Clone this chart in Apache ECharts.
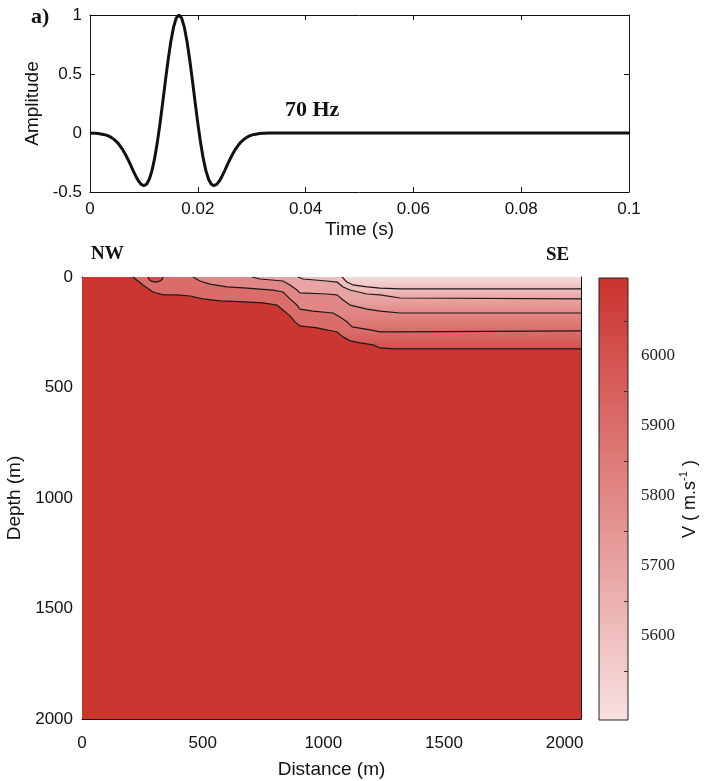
<!DOCTYPE html>
<html><head><meta charset="utf-8">
<script src="https://cdn.jsdelivr.net/npm/echarts@6/dist/echarts.min.js"></script>
<style>html,body{margin:0;padding:0;background:#fff}#c{width:705px;height:781px}</style>
</head><body><div id="c"></div>
<script>
// ---- panel a) wavelet (read from picture) ----
const timeS = [0, 0.0005, 0.001, 0.0015, 0.002, 0.0025, 0.003, 0.0035, 0.004, 0.0045,
  0.005, 0.0055, 0.006, 0.0065, 0.007, 0.0075, 0.008, 0.0085, 0.009, 0.0095,
  0.01, 0.0105, 0.011, 0.0115, 0.012, 0.0125, 0.013, 0.0135, 0.014, 0.0145,
  0.015, 0.0155, 0.016, 0.0165, 0.017, 0.0175, 0.018, 0.0185, 0.019, 0.0195,
  0.02, 0.0205, 0.021, 0.0215, 0.022, 0.0225, 0.023, 0.0235, 0.024, 0.0245,
  0.025, 0.0255, 0.026, 0.0265, 0.027, 0.0275, 0.028, 0.0285, 0.029, 0.0295,
  0.03, 0.0305, 0.031, 0.0315, 0.032, 0.0325, 0.033, 0.035, 0.1];
const amplitude = [-0.001, -0.002, -0.003, -0.005, -0.008, -0.012, -0.018, -0.027, -0.039, -0.056,
  -0.077, -0.104, -0.136, -0.175, -0.220, -0.268, -0.318, -0.366, -0.407, -0.435,
  -0.446, -0.434, -0.392, -0.319, -0.213, -0.077, 0.084, 0.262, 0.446, 0.621,
  0.776, 0.897, 0.974, 1.000, 0.974, 0.897, 0.776, 0.621, 0.446, 0.262,
  0.084, -0.077, -0.213, -0.319, -0.392, -0.434, -0.446, -0.435, -0.407, -0.366,
  -0.318, -0.268, -0.220, -0.175, -0.136, -0.104, -0.077, -0.056, -0.039, -0.027,
  -0.018, -0.012, -0.008, -0.005, -0.003, -0.002, -0.001, 0, 0];

// ---- panel b) velocity model: contours [distance m, depth m] ----
const contour5600 = [[1078,0],[1098,23],[1123,36],[1181,45],[1235,50],[1318,54],[2068,54]];
const contour5700 = [[895,0],[916,9],[1015,18],[1057,23],[1082,45],[1111,59],[1181,77],[1235,81],[1318,95],[2068,99]];
const contour5800 = [[705,0],[738,9],[833,18],[862,36],[891,59],[903,72],[1015,77],[1057,81],[1082,104],[1111,127],[1181,145],[1235,154],[1318,163],[2068,163]];
const contour5900 = [[460,0],[489,18],[530,32],[601,45],[684,50],[792,59],[833,68],[862,99],[891,127],[903,145],[957,154],[1040,163],[1069,181],[1098,203],[1119,226],[1194,239],[1235,248],[1297,248],[2068,244]];
const contour6000 = [[211,0],[253,36],[294,68],[336,81],[394,81],[448,86],[501,99],[572,108],[676,113],[750,117],[808,127],[833,149],[862,176],[883,203],[903,221],[974,230],[1057,249],[1082,271],[1111,289],[1152,298],[1206,307],[1235,321],[1297,325],[2068,325]];
const loop6000 = [[273,0],[278,11],[290,20],[305,23],[320,20],[332,11],[336,0]];
const contourLevels = [6000, 5900, 5800, 5700, 5600];
const deepVelocity = 6100;
const loopVelocity = 6020;
const modelExtent = [2068, 2000];
const cbRange = [5480, 6111];
const cbLabels = [5600, 5700, 5800, 5900, 6000];
const cbTicks = [5550, 5650, 5750, 5850, 5950, 6050];

const LO = [247, 224, 224], HI = [203, 51, 46];
function vColor(v) {
  const t = Math.max(0, Math.min(1, (v - cbRange[0]) / (cbRange[1] - cbRange[0])));
  const c = LO.map((l, i) => Math.round(l + (HI[i] - l) * t));
  return 'rgb(' + c.join(',') + ')';
}
const W = modelExtent[0], H = modelExtent[1];
const contours = [contour6000, contour5900, contour5800, contour5700, contour5600];
// polygon list: background, then region above each contour, then the small closed loop
const polys = [[[0,0],[W,0],[W,H],[0,H]]]
  .concat(contours.map(c => c.concat([[W,0]])))
  .concat([loop6000]);

const AX = '#111';
const plain = (v) => String(v);
const sansLab = {fontFamily: 'Liberation Sans', fontSize: 17, color: AX};
const sansName = {fontFamily: 'Liberation Sans', fontSize: 19, color: AX};
function frameAxis(extra) {
  return Object.assign({
    type: 'value',
    axisLine: {show: true, onZero: false, lineStyle: {color: AX, width: 1}},
    axisTick: {show: true, inside: true, length: 5, lineStyle: {color: AX}},
    splitLine: {show: false}
  }, extra);
}
const contourLine = (d) => ({
  type: 'line', xAxisIndex: 2, yAxisIndex: 2, data: d, showSymbol: false, symbol: 'none',
  lineStyle: {color: '#1a1a1a', width: 1.2}, z: 5, silent: true
});

function bandFill(i, api) {
  if (i === 0) return vColor(deepVelocity);
  if (i === polys.length - 1) return vColor(loopVelocity);
  const k = i - 1;
  const c = contours[k];
  const dBot = c[c.length - 1][1];
  const upper = contours[k + 1];
  const dTop = upper ? upper[upper.length - 1][1] : 0;
  const yTop = api.coord([W, dTop])[1], yBot = api.coord([W, dBot])[1];
  return new echarts.graphic.LinearGradient(0, yTop, 0, yBot, [
    {offset: 0, color: vColor(contourLevels[k] - 100)},
    {offset: 1, color: vColor(contourLevels[k])}], true);
}

const chart = echarts.init(document.getElementById('c'), null, {renderer: 'canvas'});
chart.setOption({
  animation: false,
  backgroundColor: '#fff',
  textStyle: {fontFamily: 'Liberation Sans'},
  grid: [
    {left: 90, top: 15, width: 539, height: 177, outerBoundsMode: 'none'},
    {left: 82, top: 277, width: 499, height: 442, outerBoundsMode: 'none'},
    {left: 599, top: 278, width: 29, height: 442, outerBoundsMode: 'none'}
  ],
  xAxis: [
    frameAxis({gridIndex: 0, min: 0, max: 0.1, interval: 0.02, position: 'bottom',
      axisLabel: Object.assign({margin: 9}, sansLab),
      name: 'Time (s)', nameLocation: 'middle', nameGap: 28, nameTextStyle: sansName}),
    frameAxis({gridIndex: 0, min: 0, max: 0.1, interval: 0.02, position: 'top', axisLabel: {show: false}}),
    frameAxis({gridIndex: 1, min: 0, max: W, interval: 500, position: 'bottom',
      axisLabel: Object.assign({margin: 16, formatter: plain}, sansLab),
      name: 'Distance (m)', nameLocation: 'middle', nameGap: 41, nameTextStyle: sansName}),
    frameAxis({gridIndex: 1, min: 0, max: W, interval: 500, position: 'top', axisLabel: {show: false}}),
    {gridIndex: 2, type: 'value', min: 0, max: 1, show: false}
  ],
  yAxis: [
    frameAxis({gridIndex: 0, min: -0.5, max: 1, interval: 0.5, position: 'left',
      axisLabel: Object.assign({margin: 8}, sansLab),
      name: 'Amplitude', nameLocation: 'middle', nameGap: 44, nameTextStyle: sansName}),
    frameAxis({gridIndex: 0, min: -0.5, max: 1, interval: 0.5, position: 'right', axisLabel: {show: false}}),
    frameAxis({gridIndex: 1, min: 0, max: H, interval: 500, inverse: true, position: 'left',
      axisLabel: Object.assign({margin: 9, formatter: plain}, sansLab),
      name: 'Depth (m)', nameLocation: 'middle', nameGap: 57, nameTextStyle: sansName}),
    frameAxis({gridIndex: 1, min: 0, max: H, interval: 500, inverse: true, position: 'right', axisLabel: {show: false}}),
    {gridIndex: 2, type: 'value', min: cbRange[0], max: cbRange[1], position: 'right',
      axisLine: {show: false}, splitLine: {show: false}, axisTick: {show: false},
      axisLabel: {customValues: cbLabels, formatter: plain, fontFamily: 'Liberation Serif', fontSize: 17, color: '#222', margin: 13},
      name: '{t|V ( m.s}{s|-1}{t| )}', nameLocation: 'middle', nameGap: 28,
      nameTextStyle: {rich: {
        t: {fontFamily: 'Liberation Sans', fontSize: 18, color: AX, lineHeight: 22},
        s: {fontFamily: 'Liberation Sans', fontSize: 11, color: AX, lineHeight: 11, verticalAlign: 'top'}
      }}}
  ],
  series: [
    {type: 'line', xAxisIndex: 0, yAxisIndex: 0, showSymbol: false, symbol: 'none',
      data: timeS.map((t, i) => [t, amplitude[i]]),
      lineStyle: {color: '#111', width: 3}, silent: true, z: 5},
    {type: 'custom', xAxisIndex: 2, yAxisIndex: 2, clip: true, silent: true, z: 2,
      data: polys.map((p, i) => [i, 0]),
      renderItem: function (params, api) {
        const i = api.value(0);
        return {type: 'polygon', shape: {points: polys[i].map(p => api.coord(p))},
          style: {fill: bandFill(i, api), stroke: null}};
      }},
    contourLine(contour6000), contourLine(contour5900), contourLine(contour5800),
    contourLine(contour5700), contourLine(contour5600), contourLine(loop6000),
    {type: 'custom', xAxisIndex: 4, yAxisIndex: 4, silent: true, z: 2,
      data: [[0, cbRange[0]]],
      renderItem: function (params, api) {
        const p1 = api.coord([0, cbRange[1]]), p2 = api.coord([1, cbRange[0]]);
        const children = [{type: 'rect', shape: {x: p1[0], y: p1[1], width: p2[0] - p1[0], height: p2[1] - p1[1]},
          style: {fill: new echarts.graphic.LinearGradient(0, 0, 0, 1, [
            {offset: 0, color: vColor(cbRange[1])}, {offset: 1, color: vColor(cbRange[0])}]),
            stroke: '#222', lineWidth: 1}}];
        cbTicks.forEach(function (v) {
          const y = Math.round(api.coord([1, v])[1]) + 0.5;
          children.push({type: 'line', shape: {x1: p2[0] - 4, y1: y, x2: p2[0], y2: y},
            style: {stroke: '#333', lineWidth: 1}});
        });
        return {type: 'group', children: children};
      }}
  ],
  graphic: [
    {type: 'text', x: 31, y: 17, style: {text: 'a)', fontFamily: 'Liberation Serif', fontWeight: 'bold', fontSize: 22, fill: '#111', verticalAlign: 'middle'}},
    {type: 'text', x: 285, y: 110, style: {text: '70 Hz', fontFamily: 'Liberation Serif', fontWeight: 'bold', fontSize: 22, fill: '#111', verticalAlign: 'middle'}},
    {type: 'text', x: 91, y: 254, style: {text: 'NW', fontFamily: 'Liberation Serif', fontWeight: 'bold', fontSize: 19, fill: '#111', verticalAlign: 'middle'}},
    {type: 'text', x: 546, y: 255, style: {text: 'SE', fontFamily: 'Liberation Serif', fontWeight: 'bold', fontSize: 19, fill: '#111', verticalAlign: 'middle'}}
  ]
});
</script>
</body></html>
